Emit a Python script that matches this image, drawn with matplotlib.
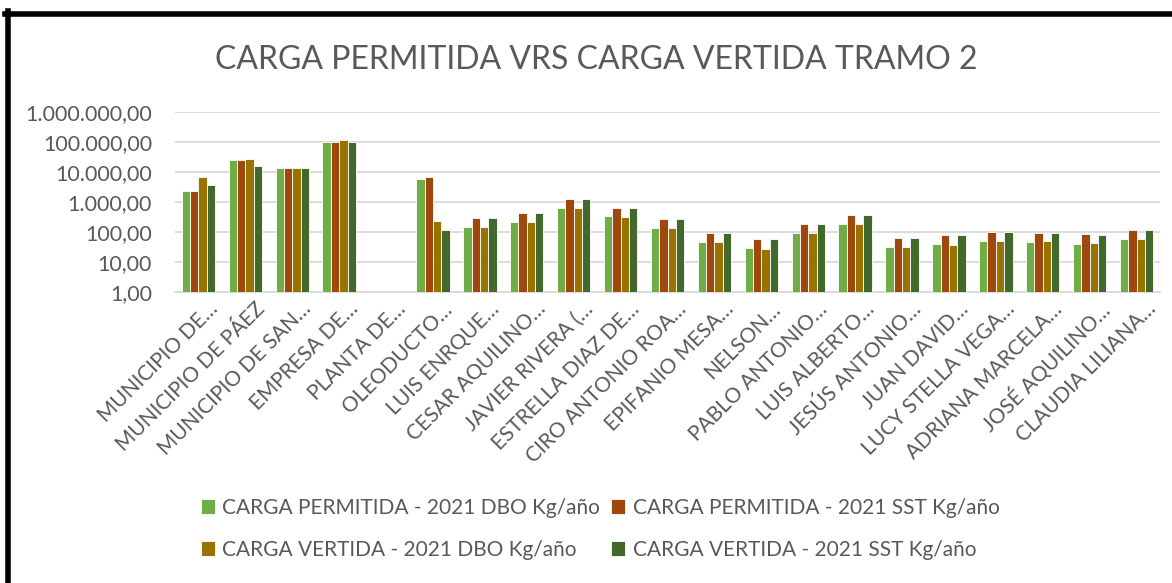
import numpy as np
import matplotlib
matplotlib.use('Agg')
import matplotlib.pyplot as plt
from matplotlib.lines import Line2D
from matplotlib.ticker import FixedLocator, FuncFormatter
from matplotlib.transforms import ScaledTranslation

plt.rcParams['font.family'] = ['Lato', 'DejaVu Sans']

# Data (kg/año, log scale)
categorias = [
    'MUNICIPIO DE…', 'MUNICIPIO DE PÁEZ', 'MUNICIPIO DE SAN…', 'EMPRESA DE…',
    'PLANTA DE…', 'OLEODUCTO…', 'LUIS ENRQUE…', 'CESAR AQUILINO…',
    'JAVIER RIVERA (…', 'ESTRELLA DIAZ DE…', 'CIRO ANTONIO ROA…',
    'EPIFANIO MESA…', 'NELSON…', 'PABLO ANTONIO…', 'LUIS ALBERTO…',
    'JESÚS ANTONIO…', 'JUAN DAVID…', 'LUCY STELLA VEGA…', 'ADRIANA MARCELA…',
    'JOSÉ AQUILINO…', 'CLAUDIA LILIANA…',
]
permitida_dbo = [2340, 25000, 13500, 98000, np.nan, 5850, 147, 215, 645, 332,
                 136, 46, 29, 91, 190, 32, 40, 51, 47, 41, 58]
permitida_sst = [2340, 25000, 13500, 98000, np.nan, 6650, 294, 430, 1290, 645,
                 270, 93, 58, 185, 380, 65, 79, 102, 95, 84, 117]
vertida_dbo = [6650, 27000, 13500, 114000, np.nan, 234, 147, 210, 630, 316,
               136, 46, 28, 91, 190, 31, 38, 49, 49, 42, 58]
vertida_sst = [3700, 15800, 13500, 102000, np.nan, 114, 294, 420, 1290, 630,
               270, 93, 57, 182, 380, 62, 79, 102, 95, 79, 120]

series = [
    ('CARGA PERMITIDA - 2021 DBO Kg/año', permitida_dbo, '#70AD47'),
    ('CARGA PERMITIDA - 2021 SST Kg/año', permitida_sst, '#9E480E'),
    ('CARGA VERTIDA - 2021 DBO Kg/año', vertida_dbo, '#997300'),
    ('CARGA VERTIDA - 2021 SST Kg/año', vertida_sst, '#43682B'),
]

fig = plt.figure(figsize=(11.72, 5.83), dpi=100)
ax = fig.add_axes([175 / 1172, 1 - 292 / 583, 985 / 1172, 180 / 583])

x = np.arange(len(categorias))
w = 0.178
handles = []
for i, (nombre, vals, color) in enumerate(series):
    b = ax.bar(x + (i - 1.5) * w, vals, w, color=color, edgecolor='white',
               linewidth=0.6, label=nombre, zorder=3)
    handles.append(b)

ax.set_yscale('log')
ax.set_ylim(1, 1e6)
ax.set_xlim(-0.5, len(categorias) - 0.5)

ticks = [10 ** k for k in range(7)]
ax.yaxis.set_major_locator(FixedLocator(ticks))
ax.yaxis.set_minor_locator(FixedLocator([]))


def es_fmt(v, pos):
    s = f'{v:,.2f}'
    return s.replace(',', 'X').replace('.', ',').replace('X', '.')


ax.yaxis.set_major_formatter(FuncFormatter(es_fmt))
ax.grid(axis='y', color='#D9D9D9', linewidth=1.3, zorder=0)
for s in ['top', 'right', 'left']:
    ax.spines[s].set_visible(False)
ax.spines['bottom'].set_color('#D9D9D9')
ax.spines['bottom'].set_linewidth(1.3)
ax.tick_params(axis='both', length=0, colors='#595959')
ax.tick_params(axis='y', pad=16.5, labelsize=15.5)
ax.tick_params(axis='x', pad=5)

ax.set_xticks(x)
ax.set_xticklabels(categorias, rotation=45, ha='right', va='top',
                   rotation_mode='anchor', fontsize=15, color='#595959')
# nudge the rotated labels a bit to the right, like Excel places them
desplaza = ScaledTranslation(9 / 100, 0, fig.dpi_scale_trans)
for lab in ax.get_xticklabels():
    lab.set_transform(lab.get_transform() + desplaza)

fig.text(0.509, 1 - 60 / 583, 'CARGA PERMITIDA VRS CARGA VERTIDA TRAMO 2',
         ha='center', va='center', fontsize=23, color='#595959')

# legend filled row by row like the original
orden = [0, 2, 1, 3]
fig.legend([handles[k] for k in orden], [series[k][0] for k in orden],
           loc='center', bbox_to_anchor=(0.512, 1 - 529 / 583), ncol=2,
           frameon=False, fontsize=15, labelcolor='#595959',
           handlelength=0.7, handleheight=0.7, handletextpad=0.35,
           columnspacing=0.5, labelspacing=1.05)

# black frame on the left and top
fig.add_artist(Line2D([7.5 / 1172, 7.5 / 1172], [0, 1 - 11 / 583],
                      transform=fig.transFigure, color='black', lw=4))
fig.add_artist(Line2D([5 / 1172, 1], [1 - 13.5 / 583, 1 - 13.5 / 583],
                      transform=fig.transFigure, color='black', lw=4))

fig.savefig('out.png', dpi=100)
